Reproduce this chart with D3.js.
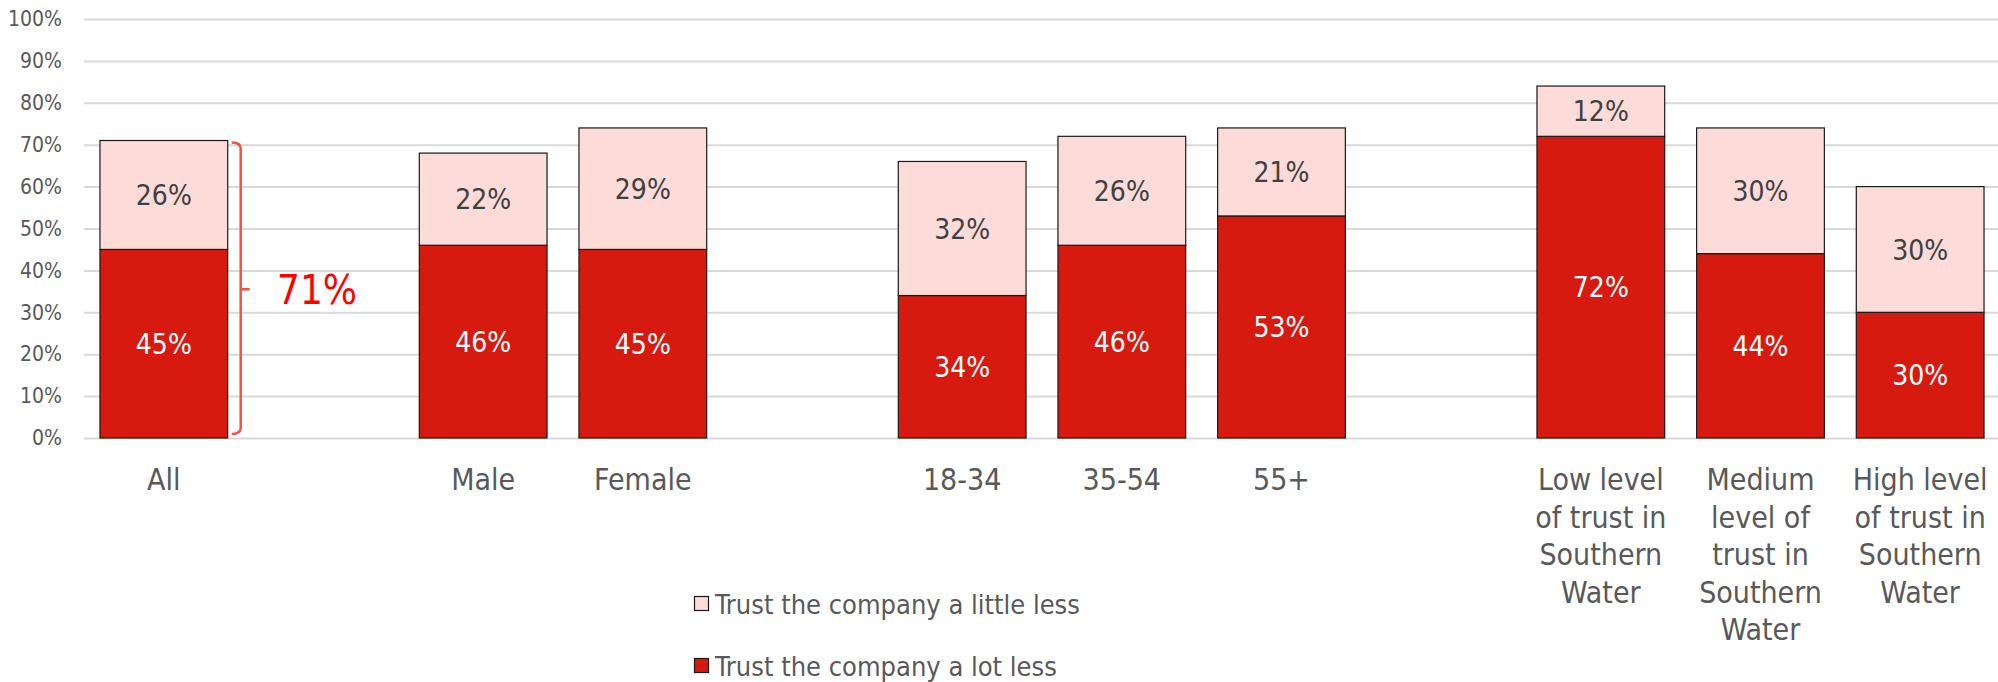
<!DOCTYPE html>
<html>
<head>
<meta charset="utf-8">
<script src="https://cdn.jsdelivr.net/npm/d3@7/dist/d3.min.js"></script>
<style>
  html, body { margin: 0; padding: 0; background: #ffffff; }
  svg { display: block; }
  .cond { font-family: "DejaVu Sans Condensed", "DejaVu Sans", sans-serif; font-stretch: condensed; }
</style>
</head>
<body>
<svg id="chart" width="1998" height="682"></svg>
<script>
// Categories, in display order; null marks an empty slot between groups
const categories = ["All", null, "Male", "Female", null, "18-34", "35-54", "55+", null,
  "Low level\nof trust in\nSouthern\nWater",
  "Medium\nlevel of\ntrust in\nSouthern\nWater",
  "High level\nof trust in\nSouthern\nWater"];

// Share who trust the company a lot less (bottom segment)
const lotLess   = [0.45, null, 0.46, 0.45, null, 0.34, 0.46, 0.53, null, 0.72, 0.44, 0.30];
// Share who trust the company a little less (top segment)
const littleLess = [0.26, null, 0.22, 0.29, null, 0.32, 0.26, 0.21, null, 0.12, 0.30, 0.30];

const seriesNames = ["Trust the company a little less", "Trust the company a lot less"];
const yTicks = [0, 0.1, 0.2, 0.3, 0.4, 0.5, 0.6, 0.7, 0.8, 0.9, 1.0];

// Combined total for the "All" bracket callout
const allTotal = 0.71;

const colLittle = "#FCDBD9";
const colLot = "#D71A0F";

const svg = d3.select("#chart");
const W = 1998;

const slots = categories.map((c, i) => "slot" + i);
const x = d3.scaleBand().domain(slots).range([84, 2000]).paddingInner(0.2).paddingOuter(0.1);
const y = d3.scaleLinear().domain([0, 1]).range([438, 19]);
const pct = d3.format(".0%");

// Gridlines + y tick labels
const yAxis = d3.axisLeft(y).tickValues(yTicks).tickFormat(pct)
  .tickSizeInner(-(W - 84)).tickSizeOuter(0).tickPadding(22);
const gy = svg.append("g").attr("transform", "translate(84,0)").call(yAxis);
gy.select(".domain").remove();
gy.selectAll(".tick line").attr("stroke", "#D9D9D9").attr("stroke-width", 2);
gy.selectAll(".tick text").attr("class", "cond").attr("font-size", 21).attr("fill", "#595959");

// Stacked bars
const rows = categories.map((c, i) => ({ key: slots[i], label: c, lot: lotLess[i], little: littleLess[i] }))
  .filter(d => d.label !== null);

const bars = svg.append("g");
rows.forEach(d => {
  const x0 = x(d.key), bw = x.bandwidth();
  bars.append("rect")
    .attr("x", x0).attr("width", bw)
    .attr("y", y(d.lot)).attr("height", y(0) - y(d.lot))
    .attr("fill", colLot).attr("stroke", "#1a1a1a").attr("stroke-width", 1.2);
  bars.append("rect")
    .attr("x", x0).attr("width", bw)
    .attr("y", y(d.lot + d.little)).attr("height", y(d.lot) - y(d.lot + d.little))
    .attr("fill", colLittle).attr("stroke", "#1a1a1a").attr("stroke-width", 1.2);
  // value labels
  bars.append("text").attr("class", "cond")
    .attr("x", x0 + bw / 2).attr("y", y(d.lot / 2))
    .attr("text-anchor", "middle").attr("dy", "0.36em")
    .attr("font-size", 28).attr("fill", "#ffffff")
    .text(pct(d.lot));
  bars.append("text").attr("class", "cond")
    .attr("x", x0 + bw / 2).attr("y", y(d.lot + d.little / 2))
    .attr("text-anchor", "middle").attr("dy", "0.36em")
    .attr("font-size", 28).attr("fill", "#404040")
    .text(pct(d.little));
});

// Category labels (multi-line)
const cat = svg.append("g");
rows.forEach(d => {
  const t = cat.append("text").attr("class", "cond")
    .attr("x", x(d.key) + x.bandwidth() / 2).attr("y", 490)
    .attr("text-anchor", "middle").attr("font-size", 30).attr("fill", "#595959");
  d.label.split("\n").forEach((line, i) => {
    t.append("tspan").attr("x", x(d.key) + x.bandwidth() / 2)
      .attr("dy", i === 0 ? 0 : 37.6).text(line);
  });
});

// Bracket around the "All" bar with its total
const bx = x(slots[0]) + x.bandwidth() + 13;
const yTop = y(allTotal) + 2, yBot = y(0) - 4, yMid = y(allTotal / 2);
svg.append("path")
  .attr("d", `M${bx - 9},${yTop} Q${bx},${yTop} ${bx},${yTop + 6} L${bx},${yBot - 6} Q${bx},${yBot} ${bx - 9},${yBot}
              M${bx},${yMid} L${bx + 9},${yMid}`)
  .attr("fill", "none").attr("stroke", "#F4504A").attr("stroke-width", 2.5);
svg.append("text").attr("class", "cond")
  .attr("x", 277).attr("y", yMid).attr("dy", "0.36em")
  .attr("font-size", 40).attr("fill", "#FF0000")
  .text(pct(allTotal));

// Legend
const legend = svg.append("g");
seriesNames.forEach((name, i) => {
  const ly = 604 + i * 62;
  legend.append("rect").attr("x", 694.5).attr("y", ly - 7.5).attr("width", 14).attr("height", 14)
    .attr("fill", i === 0 ? colLittle : colLot).attr("stroke", "#1a1a1a").attr("stroke-width", 1.2);
  legend.append("text").attr("class", "cond")
    .attr("x", 715).attr("y", ly).attr("dy", "0.36em")
    .attr("font-size", 27).attr("fill", "#595959").text(name);
});
</script>
</body>
</html>
